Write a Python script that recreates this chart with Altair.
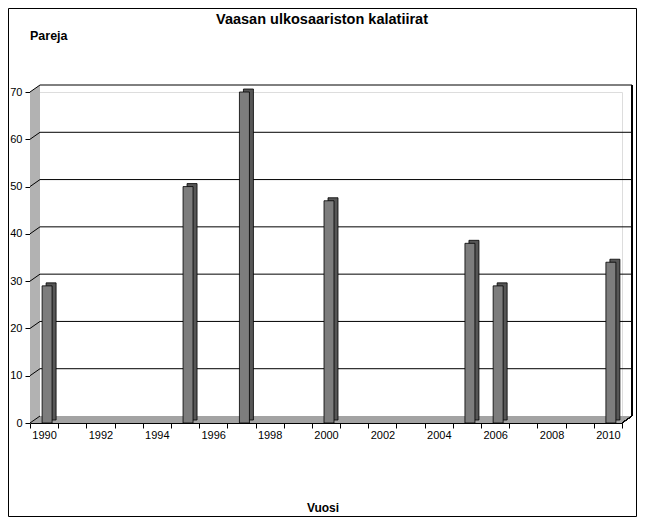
import altair as alt
import pandas as pd

# ---- data ----
all_years = list(range(1990, 2011))
bar_years = [1990, 1995, 1997, 2000, 2005, 2006, 2010]
pairs = [29, 50, 70, 47, 38, 29, 34]
y_ticks = [0, 10, 20, 30, 40, 50, 60, 70]
grid_values = [10, 20, 30, 40, 50, 60, 70]

title_text = "Vaasan ulkosaariston kalatiirat"
y_title = "Pareja"
x_title = "Vuosi"

# ---- layout constants ----
W, H = 592, 331
DX, DY = 10, 7          # 3D depth of the back wall
PAD_L, PAD_T, PAD_R, PAD_B = 22, 84, 15, 94
FONT = "Liberation Sans, Arial, sans-serif"

bars = pd.DataFrame({"year": bar_years, "v": pairs})
grid = pd.DataFrame({"v": grid_values})
ticks = pd.DataFrame({"v": y_ticks})

# decorative 3D walls (pixel geometry derived from the constants)
walls = pd.DataFrame({
    "g": ["wall", "wall", "floor", "floor", "floor", "floor"],
    "px": [0, DX, 0, DX, W, W + DX],
    "py": [0, -DY, H, H - DY, H - DY, H - DY],
    "py2": [H, H - DY, H, H, H, H - DY],
})

wall_layer = alt.Chart(walls).mark_area(stroke=None).encode(
    x=alt.X("px:Q", scale=None, axis=None),
    y=alt.Y("py:Q", scale=None, axis=None),
    y2="py2:Q",
    color=alt.Color("g:N", scale=alt.Scale(domain=["wall", "floor"], range=["#b2b2b2", "#a3a3a3"]), legend=None),
    detail="g:N",
)

yscale = alt.Scale(domain=[0, 70], nice=False, zero=True)
xscale = alt.Scale(domain=all_years, paddingInner=0, paddingOuter=0)

xaxis = alt.Axis(
    title=None, labelAngle=0, tickBand="extent",
    labelExpr="datum.value % 2 == 0 ? datum.label : ''",
    tickSize=5, tickColor="black", domainColor="black",
    labelFont=FONT, labelFontSize=11, labelColor="black", labelPadding=1,
)
yaxis = alt.Axis(
    title=None, values=y_ticks, grid=False,
    tickSize=5, tickColor="black", domainColor="#707070",
    labelFont=FONT, labelFontSize=11, labelColor="black", labelPadding=3,
)

grid_layer = alt.Chart(grid).mark_rule(color="black", strokeWidth=1, yOffset=-DY).encode(
    y=alt.Y("v:Q", scale=yscale, axis=yaxis),
    x=alt.value(DX),
    x2=alt.value(W + DX),
)

diag_layer = alt.Chart(ticks).mark_rule(color="black", strokeWidth=1, y2Offset=-DY).encode(
    y=alt.Y("v:Q", scale=yscale, axis=yaxis),
    y2="v:Q",
    x=alt.value(0),
    x2=alt.value(DX),
)

frame_lines = alt.Chart(ticks).mark_rule(color="black", strokeWidth=1).encode(
    x=alt.value(W + DX), x2=alt.value(W + DX),
    y=alt.value(-DY), y2=alt.value(H - DY),
) + alt.Chart(ticks).mark_rule(color="black", strokeWidth=1).encode(
    x=alt.value(W), x2=alt.value(W + DX),
    y=alt.value(H), y2=alt.value(H - DY),
)

back_bars = alt.Chart(bars).mark_bar(
    size=10, xOffset=7, yOffset=-3, y2Offset=-3,
    color="#565656", stroke="black", strokeWidth=0.8,
).encode(
    x=alt.X("year:O", scale=xscale, axis=xaxis),
    y=alt.Y("v:Q", scale=yscale, axis=yaxis),
)

front_bars = alt.Chart(bars).mark_bar(
    size=10, xOffset=3, color="#7d7d7d", stroke="black", strokeWidth=0.8,
).encode(
    x=alt.X("year:O", scale=xscale, axis=xaxis),
    y=alt.Y("v:Q", scale=yscale, axis=yaxis),
)

def text_mark(txt, x, y, size, align="center"):
    return alt.Chart(pd.DataFrame({"t": [txt]})).mark_text(
        font=FONT, fontSize=size, fontWeight="bold", color="black",
        align=align, baseline="middle",
    ).encode(text="t:N", x=alt.value(x), y=alt.value(y))

texts = (
    text_mark(title_text, 292, -72, 14.5)
    + text_mark(y_title, 0, -56, 12.5, align="left")
    + text_mark(x_title, 293, 416, 12)
)

border = alt.Chart(pd.DataFrame({"a": [0]})).mark_rect(
    fill=None, stroke="black", strokeWidth=1,
).encode(
    x=alt.value(-PAD_L + 0.5), x2=alt.value(W + PAD_R - 0.5),
    y=alt.value(-PAD_T + 0.5), y2=alt.value(H + PAD_B - 0.5),
)

main = alt.layer(grid_layer, diag_layer, frame_lines, back_bars, front_bars, texts, border)

chart = alt.layer(wall_layer, main).resolve_scale(
    x="independent", y="independent", color="independent"
).properties(
    width=W, height=H,
    autosize=alt.AutoSizeParams(type="none"),
    padding={"left": PAD_L, "top": PAD_T, "right": PAD_R, "bottom": PAD_B},
).configure_view(stroke=None).configure(background="white")

chart.save("out.html", embed_options={"renderer": "svg", "actions": False})
